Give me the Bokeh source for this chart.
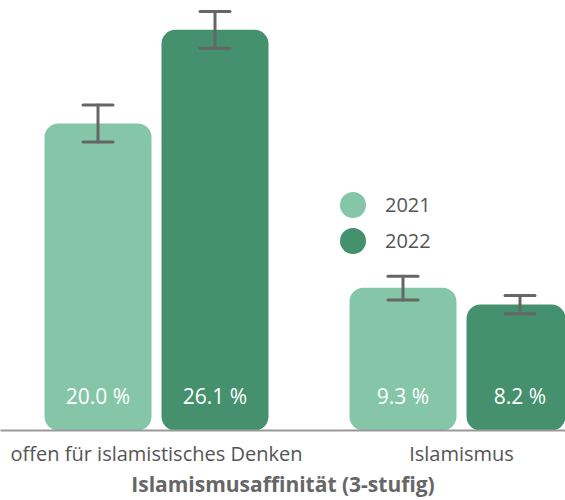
from bokeh.plotting import figure
from bokeh.models import (ColumnDataSource, Range1d, FixedTicker, Whisker, TeeHead,
                          LabelSet, Legend, LegendItem)
from bokeh.core.properties import value
from bokeh.embed import file_html
from bokeh.resources import INLINE

categories = ["offen für islamistisches Denken", "Islamismus"]
years = ["2021", "2022"]
values_2021 = [20.0, 9.3]
values_2022 = [26.1, 8.2]
lower_2021 = [18.8, 8.5]
upper_2021 = [21.2, 10.05]
lower_2022 = [24.9, 7.6]
upper_2022 = [27.3, 8.8]
labels_2021 = ["20.0 %", "9.3 %"]
labels_2022 = ["26.1 %", "8.2 %"]

colors = {"2021": "#85C6A9", "2022": "#45906D"}
FONT = "Open Sans"

p = figure(width=565, height=500, output_backend="svg", toolbar_location=None,
           x_range=Range1d(-0.5115, 1.341), y_range=Range1d(0, 28.01),
           y_axis_location=None, min_border_left=0, min_border_right=0,
           min_border_top=0, min_border_bottom=0)
p.outline_line_color = None
p.grid.visible = False

offsets = {"2021": -0.1918, "2022": 0.1918}
series = {"2021": (values_2021, lower_2021, upper_2021, labels_2021),
          "2022": (values_2022, lower_2022, upper_2022, labels_2022)}
legend_pos = {"2021": (320, 193), "2022": (320, 157)}

for yr in years:
    vals, lo, up, labs = series[yr]
    xs = [i + offsets[yr] for i in range(len(categories))]
    src = ColumnDataSource(dict(x=xs, top=vals, lower=lo, upper=up, label=labs))
    p.vbar(x="x", top="top", width=0.3508, source=src, fill_color=colors[yr],
           line_color=None, border_radius=14)
    head = dict(size=30, line_color="#666666", line_width=3, line_cap="round")
    p.add_layout(Whisker(base="x", lower="lower", upper="upper", source=src,
                         line_color="#666666", line_width=3, line_cap="round",
                         upper_head=TeeHead(**head), lower_head=TeeHead(**head),
                         level="overlay"))
    p.add_layout(LabelSet(x="x", y=0, text="label", source=src, y_offset=35,
                          text_align="center", text_baseline="middle",
                          text_color="white", text_font=value(FONT), text_font_size="21px"))
    # legend-only marker (not drawn in the plot area)
    r = p.scatter(x=[float("nan")], y=[float("nan")], size=10,
                  fill_color=colors[yr], line_color=None)
    lg = Legend(items=[LegendItem(label=yr, renderers=[r])], location=legend_pos[yr],
                glyph_width=65, glyph_height=65, label_standoff=0,
                padding=0, margin=0,
                border_line_color=None, background_fill_alpha=0,
                label_text_font=FONT, label_text_font_size="20px",
                label_text_color="#555555")
    p.add_layout(lg, "center")

p.xaxis.ticker = FixedTicker(ticks=list(range(len(categories))))
p.xaxis.major_label_overrides = {i: c for i, c in enumerate(categories)}
p.xaxis.major_tick_line_color = None
p.xaxis.minor_tick_line_color = None
p.xaxis.axis_line_color = "#999999"
p.xaxis.axis_line_width = 2
p.xaxis.major_label_standoff = 3
p.xaxis.major_label_text_font = FONT
p.xaxis.major_label_text_font_size = "20px"
p.xaxis.major_label_text_color = "#555555"
p.xaxis.axis_label = "Islamismusaffinität (3-stufig)"
p.xaxis.axis_label_text_font = FONT
p.xaxis.axis_label_text_font_style = "bold"
p.xaxis.axis_label_text_font_size = "21px"
p.xaxis.axis_label_text_color = "#666666"
p.xaxis.axis_label_standoff = 0

open("out.html", "w").write(file_html(p, INLINE))
